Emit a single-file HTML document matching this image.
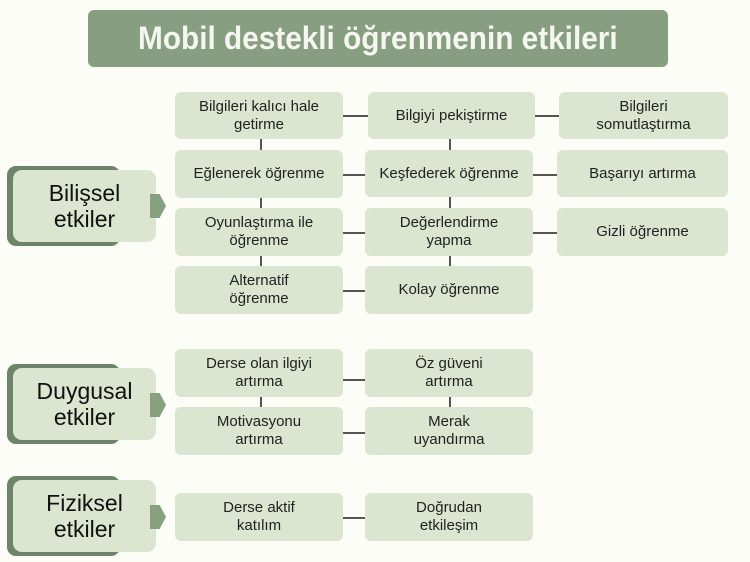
<!DOCTYPE html>
<html><head><meta charset="utf-8"><style>
body{margin:0;width:750px;height:562px;background:#fcfdf7;position:relative;overflow:hidden;font-family:"Liberation Sans",sans-serif}
.t{position:absolute;left:88px;top:10px;width:580px;height:57px;background:#879e80;border-radius:6px;color:#f4f6ef;font-weight:bold;font-size:32px;display:flex;align-items:center;justify-content:center}
.t span{display:inline-block;transform:scaleX(0.93)}
.b{position:absolute;background:#dbe5cf;border-radius:6px;display:flex;align-items:center;justify-content:center;text-align:center;font-size:15px;line-height:18px;color:#222}
.h{position:absolute;height:2px;background:#555}
.v{position:absolute;width:2px;background:#555}
.cs{position:absolute;background:#6c8468;border-radius:9px}
.c{position:absolute;background:#dbe5cf;border-radius:9px;display:flex;align-items:center;justify-content:center;text-align:center;font-size:23px;line-height:26px;color:#111}
.tri{position:absolute;width:16px;height:24px;background:#87a07f;clip-path:polygon(0 0,60% 0,100% 50%,60% 100%,0 100%)}
</style></head><body>
<div class="t"><span>Mobil destekli öğrenmenin etkileri</span></div>

<div class="h" style="left:343px;top:115px;width:25px"></div>
<div class="h" style="left:535px;top:115px;width:24px"></div>
<div class="h" style="left:343px;top:174px;width:22px"></div>
<div class="h" style="left:533px;top:174px;width:24px"></div>
<div class="h" style="left:343px;top:232px;width:22px"></div>
<div class="h" style="left:533px;top:232px;width:24px"></div>
<div class="h" style="left:343px;top:290px;width:22px"></div>
<div class="v" style="left:260px;top:139px;height:11px"></div>
<div class="v" style="left:260px;top:198px;height:10px"></div>
<div class="v" style="left:260px;top:256px;height:10px"></div>
<div class="v" style="left:449px;top:139px;height:11px"></div>
<div class="v" style="left:449px;top:197px;height:11px"></div>
<div class="v" style="left:449px;top:256px;height:10px"></div>

<div class="b" style="left:175px;top:92px;width:168px;height:47px">Bilgileri kalıcı hale<br>getirme</div>
<div class="b" style="left:368px;top:92px;width:167px;height:47px">Bilgiyi pekiştirme</div>
<div class="b" style="left:559px;top:92px;width:169px;height:47px">Bilgileri<br>somutlaştırma</div>
<div class="b" style="left:175px;top:150px;width:168px;height:48px">Eğlenerek öğrenme</div>
<div class="b" style="left:365px;top:150px;width:168px;height:47px">Keşfederek öğrenme</div>
<div class="b" style="left:557px;top:150px;width:171px;height:47px">Başarıyı artırma</div>
<div class="b" style="left:175px;top:208px;width:168px;height:48px">Oyunlaştırma ile<br>öğrenme</div>
<div class="b" style="left:365px;top:208px;width:168px;height:48px">Değerlendirme<br>yapma</div>
<div class="b" style="left:557px;top:208px;width:171px;height:48px">Gizli öğrenme</div>
<div class="b" style="left:175px;top:266px;width:168px;height:48px">Alternatif<br>öğrenme</div>
<div class="b" style="left:365px;top:266px;width:168px;height:48px">Kolay öğrenme</div>

<div class="cs" style="left:7px;top:166px;width:113px;height:80px"></div>
<div class="c" style="left:13px;top:170px;width:143px;height:72px">Bilişsel<br>etkiler</div>
<div class="tri" style="left:150px;top:194px"></div>

<div class="h" style="left:343px;top:379px;width:22px"></div>
<div class="h" style="left:343px;top:432px;width:22px"></div>
<div class="v" style="left:260px;top:397px;height:10px"></div>
<div class="v" style="left:449px;top:397px;height:10px"></div>
<div class="b" style="left:175px;top:349px;width:168px;height:48px">Derse olan ilgiyi<br>artırma</div>
<div class="b" style="left:365px;top:349px;width:168px;height:48px">Öz güveni<br>artırma</div>
<div class="b" style="left:175px;top:407px;width:168px;height:48px">Motivasyonu<br>artırma</div>
<div class="b" style="left:365px;top:407px;width:168px;height:48px">Merak<br>uyandırma</div>
<div class="cs" style="left:7px;top:364px;width:113px;height:80px"></div>
<div class="c" style="left:13px;top:368px;width:143px;height:72px">Duygusal<br>etkiler</div>
<div class="tri" style="left:150px;top:393px"></div>

<div class="h" style="left:343px;top:517px;width:22px"></div>
<div class="b" style="left:175px;top:493px;width:168px;height:48px">Derse aktif<br>katılım</div>
<div class="b" style="left:365px;top:493px;width:168px;height:48px">Doğrudan<br>etkileşim</div>
<div class="cs" style="left:7px;top:476px;width:113px;height:80px"></div>
<div class="c" style="left:13px;top:480px;width:143px;height:72px">Fiziksel<br>etkiler</div>
<div class="tri" style="left:150px;top:505px"></div>
</body></html>
